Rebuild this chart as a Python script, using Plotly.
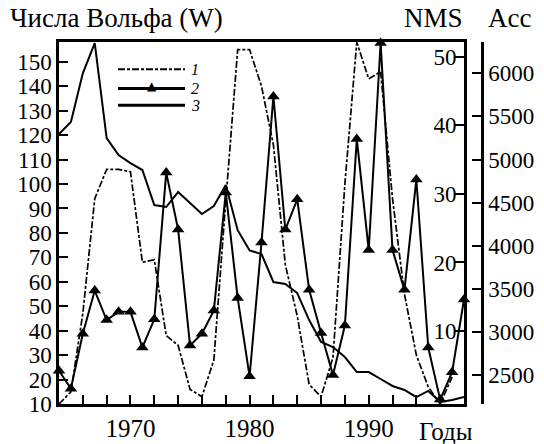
import plotly.graph_objects as go

# ---------------- data ----------------
years = list(range(1964, 1999))
wolf_years = list(range(1964, 1998))
wolf = [10, 15, 47, 94, 106, 106, 105, 68, 69, 38, 34, 16, 13, 28, 93, 155,
        155, 140, 116, 67, 46, 18, 13, 29, 100, 158, 143, 146, 94, 55, 30, 17, 10, 21]
nms = [4.2, 1.6, 9.6, 15.9, 11.6, 12.8, 12.8, 7.6, 11.7, 33.1, 24.8, 7.9, 9.6, 13.0,
       30.2, 14.8, 3.4, 22.9, 44.2, 24.8, 29.2, 16.0, 9.7, 3.6, 10.8, 38.0, 21.8,
       52.0, 21.8, 16.0, 32.1, 7.6, 0.0, 4.0, 14.6]
acc = [5296, 5435, 6000, 6351, 5249, 5052, 4959, 4878, 4472, 4449, 4623, 4495,
       4368, 4461, 4704, 4180, 3945, 3904, 3579, 3556, 3451, 3138, 2883, 2825,
       2709, 2535, 2535, 2454, 2373, 2327, 2245, 2315, 2187, 2210, 2245]

w_ticks = list(range(10, 151, 10))
nms_ticks = [10, 20, 30, 40, 50]
acc_ticks = list(range(2500, 6001, 500))
x_ticks = list(range(1966, 1998, 2))
x_labels = {1970: "1970", 1980: "1980", 1990: "1990"}
legend_labels = ["1", "2", "3"]

# ---------------- layout geometry ----------------
FONT = "Liberation Serif"
W, H = 544, 444
L, R, T, B = 59, 62, 42, 40
PW = W - L - R
PH = H - T - B
XDOM = 405 / PW


def px(x):
    return (x - L) / PW


def py(y):
    return (H - B - y) / PH


DASH = "7px,2px,3px,2px"

fig = go.Figure()
fig.add_trace(go.Scatter(x=wolf_years, y=wolf, mode="lines", yaxis="y",
                         line=dict(color="black", width=1.7, dash=DASH),
                         showlegend=False))
fig.add_trace(go.Scatter(x=years, y=nms, mode="lines+markers", yaxis="y2",
                         line=dict(color="black", width=2),
                         marker=dict(symbol="triangle-up", size=11, color="black"),
                         cliponaxis=False, showlegend=False))
fig.add_trace(go.Scatter(x=years, y=acc, mode="lines", yaxis="y3",
                         line=dict(color="black", width=2),
                         showlegend=False))

y_font = dict(family=FONT, size=23, color="black")
x_font = dict(family=FONT, size=25, color="black")

common = dict(ticks="inside", ticklen=9, tickwidth=2, tickcolor="black",
              showgrid=False, zeroline=False, automargin=False)

fig.update_layout(
    width=W, height=H,
    margin=dict(l=L, r=R, t=T, b=B, pad=0, autoexpand=False),
    paper_bgcolor="white", plot_bgcolor="white",
    xaxis=dict(domain=[0, XDOM], range=[1964, 1998],
               tickmode="array", tickvals=x_ticks,
               ticktext=[x_labels.get(v, "") for v in x_ticks],
               showline=True, linewidth=2.5, linecolor="black", mirror=True,
               tickfont=x_font, ticklabelstandoff=0, **common),
    yaxis=dict(range=[10, 158.1], tickmode="array", tickvals=w_ticks,
               showline=True, linewidth=2.5, linecolor="black", mirror=True,
               tickfont=y_font, **common),
    yaxis2=dict(overlaying="y", side="right", anchor="x",
                range=[-0.64, 52.14], tickmode="array", tickvals=nms_ticks,
                ticklabelposition="inside", showline=False,
                tickfont=y_font, **common),
    yaxis3=dict(overlaying="y", side="right", anchor="free", position=1.0,
                range=[2164, 6363], tickmode="array", tickvals=acc_ticks,
                showline=True, linewidth=2.5, linecolor="black",
                tickfont=y_font, **common),
)

title_font = dict(family=FONT, size=27, color="black")
ann = [
    dict(text="Числа Вольфа (W)", x=px(8), y=py(18), xanchor="left", yanchor="middle"),
    dict(text="NMS", x=px(465), y=py(18), xanchor="right", yanchor="middle"),
    dict(text="Acc", x=px(486), y=py(18), xanchor="left", yanchor="middle"),
    dict(text="Годы", x=px(446), y=py(431), xanchor="center", yanchor="middle"),
]
for a in ann:
    fig.add_annotation(xref="paper", yref="paper", showarrow=False,
                       font=title_font if a["text"] != "Годы" else x_font, **a)

# ---- custom legend ----
leg_y = [69.3, 88.5, 105.3]
leg_dash = [DASH, "solid", "solid"]
leg_w = [2, 3, 3]
for yy, d, lw, lab in zip(leg_y, leg_dash, leg_w, legend_labels):
    fig.add_shape(type="line", xref="paper", yref="paper",
                  x0=px(118), x1=px(185), y0=py(yy), y1=py(yy),
                  line=dict(color="black", width=lw, dash=d))
    fig.add_annotation(xref="paper", yref="paper", showarrow=False,
                       x=px(189), y=py(yy), xanchor="left", yanchor="middle",
                       text="<i>" + lab + "</i>",
                       font=dict(family=FONT, size=16, color="black"))
fig.add_annotation(xref="paper", yref="paper", showarrow=False,
                   x=px(152), y=py(86), xanchor="center", yanchor="middle",
                   text="▲", font=dict(family="DejaVu Sans", size=12, color="black"))

fig.write_html("out.html", config={"displayModeBar": False},
               post_script="document.body.style.margin='0';")
